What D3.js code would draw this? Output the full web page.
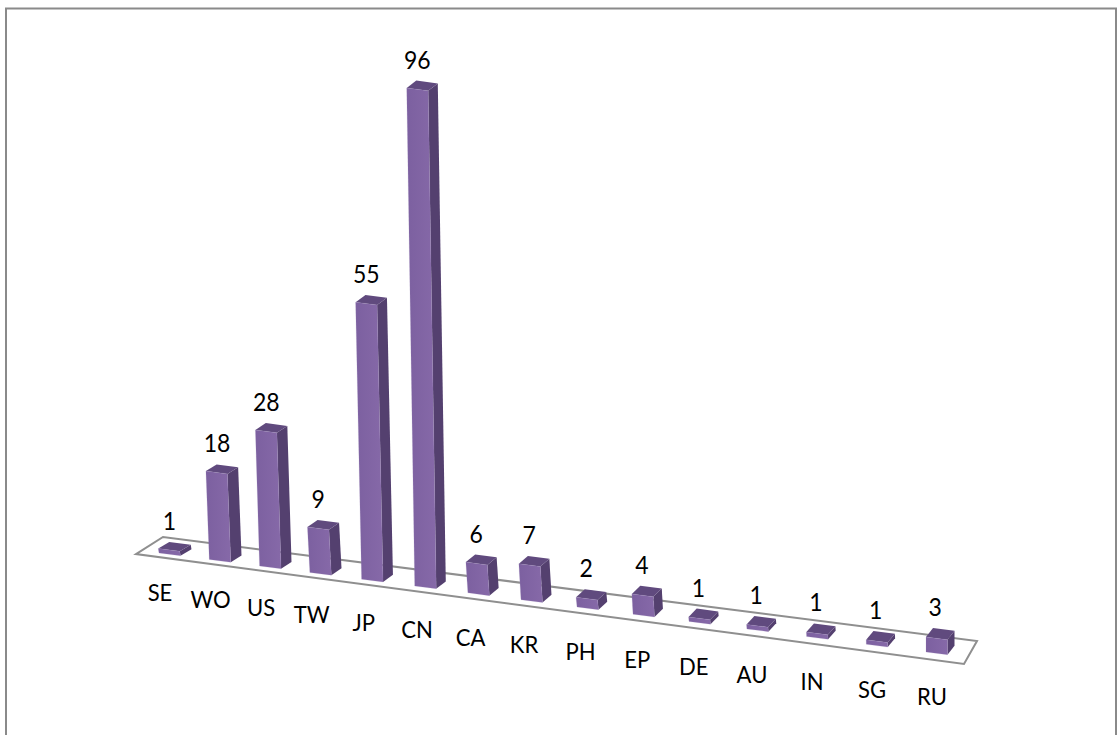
<!DOCTYPE html>
<html>
<head>
<meta charset="utf-8">
<style>
  html, body { margin: 0; padding: 0; background: #fff; overflow: hidden; }
  svg { display: block; }
  text { font-family: Lato, "Open Sans", sans-serif; fill: #000; }
</style>
</head>
<body>
<svg id="chart" width="1118" height="735"></svg>
<script src="https://cdn.jsdelivr.net/npm/d3@7"></script>
<script>
// Filings per patent office, drawn as perspective 3D columns on a tilted floor.
const categories = ["SE", "WO", "US", "TW", "JP", "CN", "CA", "KR", "PH", "EP", "DE", "AU", "IN", "SG", "RU"];
const values = [1, 18, 28, 9, 55, 96, 6, 7, 2, 4, 1, 1, 1, 1, 3];

const svg = d3.select("#chart");
const last = categories.length - 1;

// The column spacing widens towards the viewer, so position is piecewise.
const xBase = d3.scaleLinear().domain([0, 3.5, 7, 10.5, 14]).range([159, 335, 521, 717, 926]);
// The floor runs downhill from left to right.
const yBase = d3.scaleLinear().domain([159, 926]).range([553, 652]);
// Column height in pixels.
const height = d3.scaleLinear().domain([0, 1, 7, 28, 55, 96]).range([0, 4.5, 36, 136, 277, 498]);
// Receding depth offset of each column's top and side.
const depthX = d3.scaleLinear().domain([0, last]).range([11, 7]);
const depthY = d3.scaleLinear().domain([0, last]).range([-6.5, -9]);
const faceWidth = 21.5;
const faceSlope = yBase(1) - yBase(0);
// Tall columns on the left lean away from their base.
const lean = d3.scaleSqrt().domain([0, 498]).range([0, 8]);
const leanShift = d3.scaleLinear().domain([0, 7, last]).range([1, 1, 0]);

// Category labels sit on their own slightly wider track below the floor.
const xLabel = d3.scaleLinear().domain([0, 3.5, 7, 10.5, 14]).range([160, 337, 524, 722, 932]);
const yLabel = d3.scaleLinear().domain([0, last]).range([592, 696]);

// Condensed text: Lato at a taller size, squeezed horizontally.
const textAt = (x, y) => `translate(${x},${y}) scale(0.92,1)`;

// Chart frame, open at the bottom edge.
svg.append("path")
  .attr("d", "M6,735V8.5H1116V735")
  .attr("fill", "none").attr("stroke", "#8a8a8a").attr("stroke-width", 2);

// Tilted floor outline.
const floor = [
  [136, yBase(136) + 4],
  [163, yBase(163) - 16.5],
  [977, yBase(977) - 17.5],
  [964, yBase(964) + 7]
];
svg.append("path")
  .attr("d", d3.line()(floor) + "Z")
  .attr("fill", "none").attr("stroke", "#8f8f8f").attr("stroke-width", 2)
  .attr("stroke-linejoin", "miter");

const defs = svg.append("defs");
const grad = defs.append("linearGradient").attr("id", "front")
  .attr("x1", 0).attr("x2", 1).attr("y1", 0).attr("y2", 0);
grad.append("stop").attr("offset", "0%").attr("stop-color", "#7c60a0");
grad.append("stop").attr("offset", "100%").attr("stop-color", "#8669a8");

const bars = svg.append("g").selectAll("g")
  .data(values.map((v, i) => ({ v, i, cat: categories[i] })))
  .join("g");

bars.each(function (d) {
  const g = d3.select(this);
  const x0 = xBase(d.i), y0 = yBase(x0), h = height(d.v);
  const topShift = -lean(h) * leanShift(d.i);
  const dx = depthX(d.i), dy = depthY(d.i), sl = faceWidth * faceSlope;
  const bl = [x0, y0], br = [x0 + faceWidth, y0 + sl];
  const tl = [x0 + topShift, y0 - h], tr = [x0 + faceWidth + topShift, y0 - h + sl];
  const tlb = [tl[0] + dx, tl[1] + dy], trb = [tr[0] + dx, tr[1] + dy];
  const brb = [br[0] + dx, br[1] + dy];
  const poly = pts => d3.line()(pts) + "Z";
  g.append("path").attr("d", poly([tr, trb, brb, br])).attr("fill", "#54406f");
  g.append("path").attr("d", poly([tl, tlb, trb, tr])).attr("fill", "#604a7e");
  g.append("path").attr("d", poly([tl, tr, br, bl])).attr("fill", "url(#front)")
    .attr("stroke", "#a48fc0").attr("stroke-width", 0.5).attr("stroke-opacity", 0.35);
  d.labelX = (tl[0] + trb[0]) / 2 - 5;
  d.labelY = tlb[1];
});

// Value above each column.
svg.append("g").selectAll("text")
  .data(bars.data())
  .join("text")
  .attr("transform", d => textAt(d.labelX, d.labelY - 12))
  .attr("text-anchor", "middle")
  .attr("font-size", 25)
  .text(d => d.v);

// Category names along the front of the floor.
svg.append("g").selectAll("text")
  .data(categories)
  .join("text")
  .attr("transform", (d, i) => textAt(xLabel(i), yLabel(i) + 9))
  .attr("text-anchor", "middle")
  .attr("font-size", 24)
  .text(d => d);
</script>
</body>
</html>
